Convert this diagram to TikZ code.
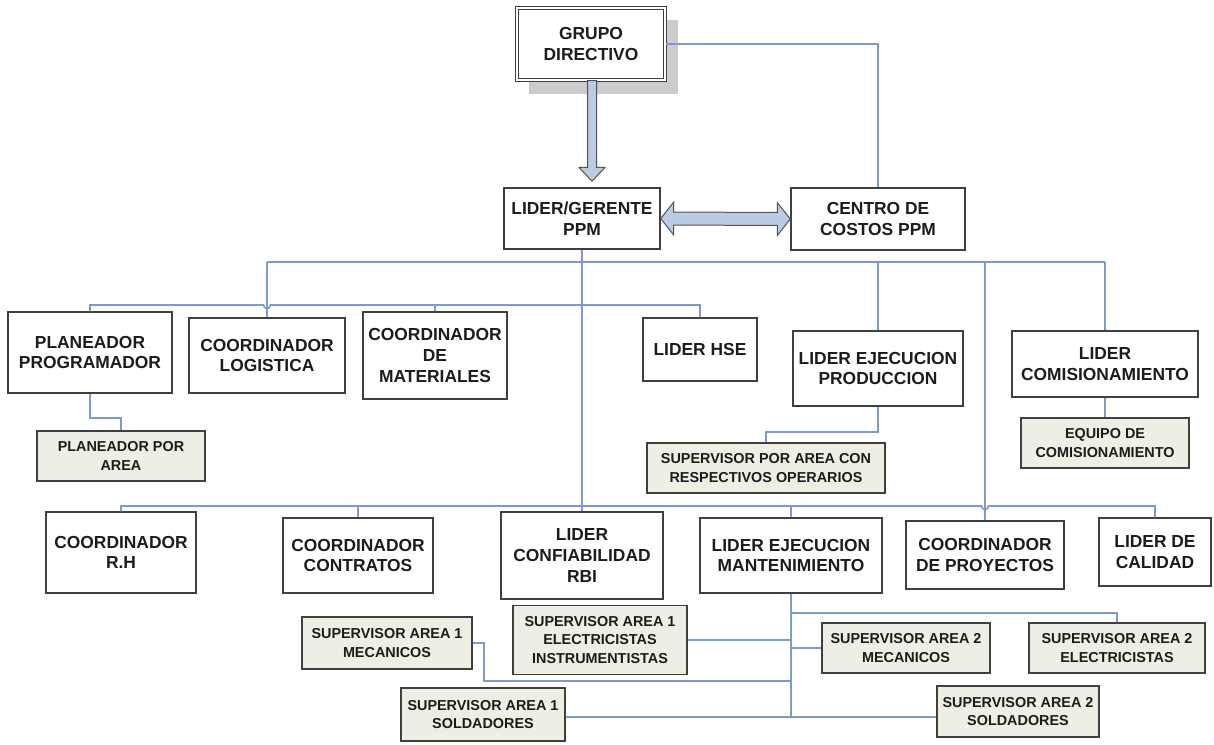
\documentclass[tikz,border=0pt]{standalone}
\usepackage{fontspec}
\setmainfont{Liberation Sans}
\usetikzlibrary{calc}
\definecolor{linkblue}{RGB}{124,155,205}
\definecolor{boxedge}{RGB}{64,64,64}
\definecolor{subfill}{RGB}{238,238,228}
\definecolor{arrowfill}{RGB}{185,204,228}
\definecolor{shadowgray}{RGB}{204,204,204}
\definecolor{ink}{RGB}{28,28,28}
\tikzset{
  unitbox/.style={draw=boxedge, line width=1.45pt, fill=white, align=center,
    inner sep=2pt, text=ink, font=\fontsize{17.4}{20.8}\selectfont\bfseries},
  subbox/.style={unitbox, fill=subfill, font=\fontsize{14.4}{18.8}\selectfont\bfseries},
  link/.style={draw=linkblue, line width=1.7pt},
  fatarrow/.style={draw=boxedge!90, line width=1pt, fill=arrowfill, line join=miter},
}
% hop of a horizontal line over a vertical one at x = #1
\newcommand{\hopover}[1]{-- ({#1-3.5},\hopy) arc[start angle=180, end angle=0, radius=3.5] }
\begin{document}
\begin{tikzpicture}[x=1pt, y=-1pt]
\useasboundingbox (0,0) rectangle (1214,744);

% management
\fill[shadowgray] (529,20) rectangle (678,94);
\node[unitbox, double, double distance=2.2pt, line width=1.1pt, minimum width=148pt, minimum height=72pt] (grupo) at (591,44) {GRUPO\\DIRECTIVO};
\node[unitbox, minimum width=156pt, minimum height=61pt] (lider) at (582,218.5) {LIDER/GERENTE\\PPM};
\node[unitbox, minimum width=174pt, minimum height=62pt] (centro) at (878,219) {CENTRO DE\\COSTOS PPM};

% first level
\node[unitbox, minimum width=164pt, minimum height=81pt] (plan) at (90,352.5) {PLANEADOR\\PROGRAMADOR};
\node[unitbox, minimum width=156pt, minimum height=75pt] (logi) at (267,355.5) {COORDINADOR\\LOGISTICA};
\node[unitbox, minimum width=144pt, minimum height=87pt] (mate) at (435,355.5) {COORDINADOR\\DE\\MATERIALES};
\node[unitbox, minimum width=114pt, minimum height=63pt] (hse) at (700,349.5) {LIDER HSE};
\node[unitbox, minimum width=170pt, minimum height=75pt] (prod) at (878,368.5) {LIDER EJECUCION\\PRODUCCION};
\node[unitbox, minimum width=186pt, minimum height=66pt] (comi) at (1105,364) {LIDER\\COMISIONAMIENTO};

\node[subbox, minimum width=168pt, minimum height=50pt] (plarea) at (121,456) {PLANEADOR POR\\AREA};
\node[subbox, minimum width=238pt, minimum height=50pt] (supop) at (766,468) {SUPERVISOR POR AREA CON\\RESPECTIVOS OPERARIOS};
\node[subbox, minimum width=168pt, minimum height=50pt] (equipo) at (1105,443) {EQUIPO DE\\COMISIONAMIENTO};

% second level
\node[unitbox, minimum width=150pt, minimum height=81pt] (rh) at (121,552.5) {COORDINADOR\\R.H};
\node[unitbox, minimum width=150pt, minimum height=75pt] (contr) at (358,555.5) {COORDINADOR\\CONTRATOS};
\node[unitbox, minimum width=162pt, minimum height=87pt] (rbi) at (582,555.5) {LIDER\\CONFIABILIDAD\\RBI};
\node[unitbox, minimum width=182pt, minimum height=75pt] (mant) at (791,555.5) {LIDER EJECUCION\\MANTENIMIENTO};
\node[unitbox, minimum width=158pt, minimum height=68pt] (proy) at (985,555) {COORDINADOR\\DE PROYECTOS};
\node[unitbox, minimum width=112pt, minimum height=68pt] (cal) at (1155,552) {LIDER DE\\CALIDAD};

% maintenance supervisors
\node[subbox, minimum width=174pt, minimum height=69pt] (s1elec) at (600,640) {SUPERVISOR AREA 1\\ELECTRICISTAS\\INSTRUMENTISTAS};
\node[subbox, minimum width=170pt, minimum height=52pt] (s1mec) at (387,643) {SUPERVISOR AREA 1\\MECANICOS};
\node[subbox, minimum width=164pt, minimum height=53pt] (s1sol) at (483,714.5) {SUPERVISOR AREA 1\\SOLDADORES};
\node[subbox, minimum width=168pt, minimum height=50pt] (s2mec) at (906,648) {SUPERVISOR AREA 2\\MECANICOS};
\node[subbox, minimum width=176pt, minimum height=50pt] (s2elec) at (1117,648) {SUPERVISOR AREA 2\\ELECTRICISTAS};
\node[subbox, minimum width=162pt, minimum height=51pt] (s2sol) at (1018,711.5) {SUPERVISOR AREA 2\\SOLDADORES};

% bus levels
\coordinate (busA) at (0,262);
\coordinate (busB) at (0,305);
\coordinate (busC) at (0,506);

% block arrows
\coordinate (dtop) at ($(grupo.south)+(1,0)$);
\coordinate (dlvl) at ($(lider.north)+(0,-6)$);
\coordinate (dtip) at (dtop |- dlvl);
\draw[fatarrow] ($(dtop)+(-4.5,0)$) -- ($(dtip)+(-4.5,-14)$) -- ++(-8.5,0)
  -- (dtip) -- ++(13,-14) -- ++(-8.5,0) -- ($(dtop)+(4.5,0)$) -- cycle;
\draw[fatarrow] (lider.east) -- ++(13,-16.5) -- ++(0,10) -- ($(centro.west)+(-13,-6.5)$) -- ++(0,-10)
  -- (centro.west) -- ++(-13,16.5) -- ++(0,-10) -- ($(lider.east)+(13,6.5)$) -- ++(0,10) -- cycle;

% connectors
\draw[link] (grupo.east) -| (centro.north);
\draw[link] (lider.south) -- (rbi.north);
\draw[link] (logi.north |- busA) -- (comi.north |- busA);
\draw[link] (logi.north |- busA) -- (logi.north);
\draw[link] (prod.north |- busA) -- (prod.north);
\draw[link] (comi.north |- busA) -- (comi.north);
\draw[link] (proy.north |- busA) -- (proy.north);

\def\hopy{305}
\draw[link] (plan.north) -- (plan.north |- busB) \hopover{267} -- (hse.north |- busB) -- (hse.north);
\draw[link] (mate.north) -- (mate.north |- busB);

\def\hopy{506}
\draw[link] (rh.north) -- (rh.north |- busC) \hopover{985} -- (cal.north |- busC) -- (cal.north);
\draw[link] (contr.north) -- (contr.north |- busC);
\draw[link] (mant.north) -- (mant.north |- busC);

\draw[link] (plan.south) -- ++(0,24) -| (plarea.north);
\draw[link] (prod.south) -- ++(0,25) -| (supop.north);
\draw[link] (comi.south) -- (equipo.north);

\coordinate (mantend) at ($(mant.south)+(0,123.5)$);
\draw[link] (mant.south) -- (mantend);
\draw[link] ($(mant.south)+(0,19)$) -| (s2elec.north);
\draw[link] (s2mec.west) -- (s2mec.west -| mant.south);
\draw[link] (s1elec.east) -- (s1elec.east -| mant.south);
\draw[link] (s1mec.east) -- ++(11,0) |- ($(mant.south)+(0,87)$);
\draw[link] ($(s1sol.east)+(0,2.5)$) -- ($(s2sol.west)+(0,5.5)$);
\end{tikzpicture}
\end{document}
